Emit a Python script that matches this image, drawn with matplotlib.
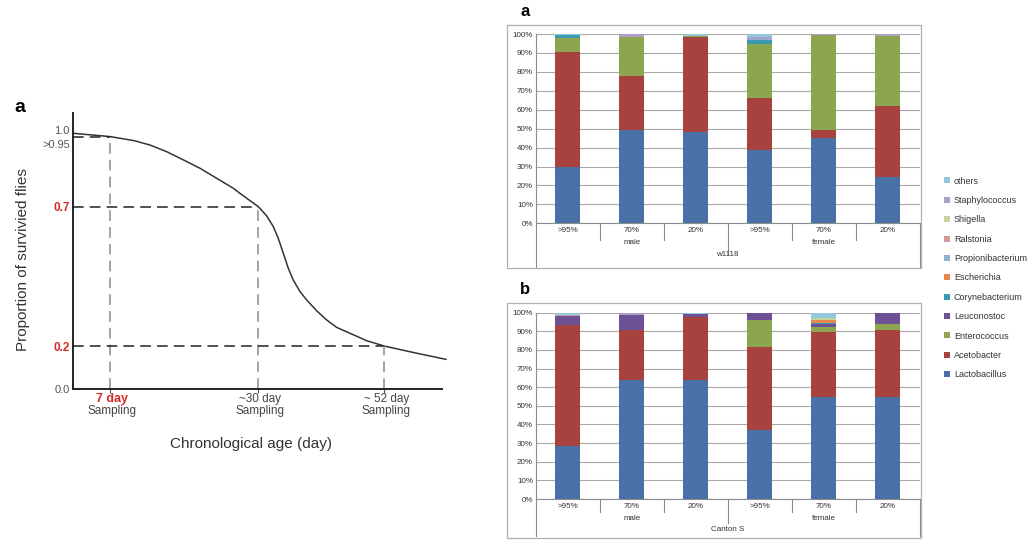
import matplotlib
matplotlib.use('Agg')
import matplotlib.pyplot as plt
from matplotlib.patches import Rectangle

plt.rcParams['font.family'] = ['Liberation Sans', 'DejaVu Sans']

# ---- panel a (left): survival curve, schematic axes as drawn ----
age = [0, 6.07, 10.0, 12.57, 15.28, 17.98, 20.70, 23.41, 26.11, 27.20, 30.18, 31.54,
       32.62, 33.43, 34.24, 35.06, 35.87, 36.96, 38.05, 39.67, 41.30, 42.93, 45.09,
       47.80, 50.67, 55.93, 60.70]
survival = [1.0, 0.987, 0.971, 0.954, 0.928, 0.896, 0.863, 0.824, 0.785, 0.765, 0.713,
            0.677, 0.635, 0.589, 0.531, 0.472, 0.426, 0.381, 0.348, 0.306, 0.270, 0.241,
            0.218, 0.189, 0.168, 0.140, 0.116]
sample_x = [6.07, 30.18, 50.67]
sample_y = [0.987, 0.713, 0.168]
day_labels = ['7 day', '~30 day', '~ 52 day']
ytick_pos = [0.0, 0.168, 0.713, 0.957, 1.014]
ytick_labels = ['0.0', '0.2', '0.7', '>0.95', '1.0']

# ---- bar panels: relative abundance (%) ----
groups = ['>95%', '70%', '20%', '>95%', '70%', '20%']
taxa = ['Lactobacillus', 'Acetobacter', 'Enterococcus', 'Leuconostoc', 'Corynebacterium',
        'Escherichia', 'Propionibacterium', 'Ralstonia', 'Shigella', 'Staphylococcus', 'others']
colors = ['#4a70a8', '#a8423f', '#8ba64e', '#6d5095', '#3a9ab2', '#e8874a',
          '#90afd6', '#d49a98', '#c4d4a0', '#aca0c6', '#92c8dc']

w1118 = {
    'Lactobacillus':     [30.0, 49.3, 48.4, 38.7, 44.9, 24.6],
    'Acetobacter':       [60.3, 28.5, 49.8, 27.3, 4.4, 37.4],
    'Enterococcus':      [7.6, 20.8, 0.8, 28.7, 50.2, 37.0],
    'Leuconostoc':       [0, 0, 0, 0, 0, 0],
    'Corynebacterium':   [1.4, 0, 0, 2.3, 0, 0],
    'Escherichia':       [0, 0, 0, 0, 0, 0],
    'Propionibacterium': [0, 0, 0, 0.6, 0, 0],
    'Ralstonia':         [0, 0, 0, 0, 0, 0],
    'Shigella':          [0, 0, 0, 0, 0, 0],
    'Staphylococcus':    [0, 1.4, 0, 0.8, 0.5, 1.0],
    'others':            [0.7, 0, 1.0, 1.6, 0, 0],
}
canton = {
    'Lactobacillus':     [28.6, 63.9, 63.9, 37.0, 55.0, 55.0],
    'Acetobacter':       [64.6, 26.8, 34.0, 44.8, 34.8, 35.5],
    'Enterococcus':      [0, 0, 0, 14.2, 2.7, 3.6],
    'Leuconostoc':       [4.8, 8.1, 1.5, 4.0, 1.4, 5.9],
    'Corynebacterium':   [0, 0, 0, 0, 0.5, 0],
    'Escherichia':       [0, 0, 0, 0, 1.8, 0],
    'Propionibacterium': [0, 0, 0, 0, 0, 0],
    'Ralstonia':         [0.8, 0, 0, 0, 0, 0],
    'Shigella':          [0, 0, 0, 0, 1.2, 0],
    'Staphylococcus':    [0, 1.2, 0, 0, 0, 0],
    'others':            [1.2, 0, 0.6, 0, 2.6, 0],
}

fig = plt.figure(figsize=(10.3, 5.45), dpi=100)

# ---------------- left panel ----------------
ax = fig.add_axes([0.0706, 0.2862, 0.3582, 0.5059])
ax.plot(age, survival, color='#333333', lw=1.1, clip_on=False)
for x, y in zip(sample_x, sample_y):
    ax.plot([0, x], [y, y], color='#222222', lw=1.1, dashes=(7, 4))
    ax.plot([x, x], [0, y], color='#8a8a8a', lw=1.1, dashes=(7, 4))
ax.set_xlim(0, 60)
ax.set_ylim(0, 1.078)
for s in ['top', 'right']:
    ax.spines[s].set_visible(False)
for s in ['left', 'bottom']:
    ax.spines[s].set_linewidth(1.4)
    ax.spines[s].set_color('#222222')
ax.set_yticks(ytick_pos)
ax.set_yticklabels(ytick_labels)
ax.tick_params(axis='y', length=0, pad=2, labelsize=8, labelcolor='#555555')
for lab in ax.get_yticklabels():
    if lab.get_text() in ('0.7', '0.2'):
        lab.set_color('#d42a2a')
        lab.set_fontweight('bold')
        lab.set_fontsize(8.5)
ax.set_xticks(sample_x)
ax.set_xticklabels([])
ax.tick_params(axis='x', length=3, color='#555555')
for i, (x, d) in enumerate(zip(sample_x, day_labels)):
    first = i == 0
    ax.text(x + 0.3, -0.037, d, transform=ax.get_xaxis_transform(), ha='center', va='center',
            fontsize=9 if first else 8.5, color='#d42a2a' if first else '#444444',
            fontweight='bold' if first else 'normal')
    ax.text(x + 0.3, -0.079, 'Sampling', transform=ax.get_xaxis_transform(),
            ha='center', va='center', fontsize=8.5, color='#444444')
ax.set_ylabel('Proportion of survivied flies', fontsize=11, color='#333333')
ax.yaxis.set_label_coords(-0.116, 0.47)
ax.set_xlabel('Chronological age (day)', fontsize=11, color='#333333')
ax.xaxis.set_label_coords(0.483, -0.173)
fig.text(0.0136, 0.802, 'a', fontsize=14, fontweight='bold', va='center')


# ---------------- right panels ----------------
def bar_panel(rect, box, data, strain, lab_y, sep_y):
    fig.patches.append(Rectangle((box[0], box[1]), box[2], box[3], transform=fig.transFigure,
                                 fill=False, edgecolor='#b0b0b0', lw=0.9))
    bx = fig.add_axes(rect)
    xs = list(range(len(groups)))
    bottom = [0.0] * len(groups)
    handles = []
    for t, c in zip(taxa, colors):
        h = bx.bar(xs, data[t], 0.39, bottom=bottom, color=c, label=t, zorder=3)
        handles.append(h)
        bottom = [b + v for b, v in zip(bottom, data[t])]
    bx.set_xlim(-0.5, 5.5)
    bx.set_ylim(0, 100)
    bx.set_yticks(range(0, 101, 10))
    bx.set_yticklabels([f'{v}%' for v in range(0, 101, 10)])
    bx.tick_params(axis='y', length=0, pad=2, labelsize=5.8, labelcolor='#333333')
    bx.grid(axis='y', color='#a8a8a8', lw=0.8, zorder=0)
    bx.set_xticks(xs)
    bx.set_xticklabels([])
    bx.tick_params(axis='x', length=0)
    for s in ['top', 'right']:
        bx.spines[s].set_visible(False)
    bx.spines['left'].set_color('#8c8c8c')
    bx.spines['bottom'].set_color('#8c8c8c')
    tr = bx.get_xaxis_transform()
    for x, g in zip(xs, groups):
        bx.text(x, lab_y[0], g, transform=tr, ha='center', va='center', fontsize=5.8, color='#333333')
    bx.text(1, lab_y[1], 'male', transform=tr, ha='center', va='center', fontsize=5.8, color='#333333')
    bx.text(4, lab_y[1], 'female', transform=tr, ha='center', va='center', fontsize=5.8, color='#333333')
    bx.text(2.5, lab_y[2], strain, transform=tr, ha='center', va='center', fontsize=5.8, color='#333333')
    for x in [0.5, 1.5, 3.5, 4.5]:
        bx.plot([x, x], [0, sep_y[0]], transform=tr, color='#8c8c8c', lw=0.8, clip_on=False)
    bx.plot([2.5, 2.5], [0, sep_y[1]], transform=tr, color='#8c8c8c', lw=0.8, clip_on=False)
    bx.plot([-0.5, -0.5], [0, sep_y[2]], transform=tr, color='#8c8c8c', lw=0.8, clip_on=False)
    bx.plot([5.5, 5.5], [0, sep_y[2]], transform=tr, color='#8c8c8c', lw=0.8, clip_on=False)
    return handles


bar_panel([0.5201, 0.5903, 0.3728, 0.3473], [0.4922, 0.5083, 0.402, 0.4464], w1118, 'w1118',
          [-0.039, -0.099, -0.164], [-0.09, -0.169, -0.236])
handles = bar_panel([0.5201, 0.0844, 0.3728, 0.3418], [0.4922, 0.0128, 0.402, 0.4306], canton,
                    'Canton S', [-0.038, -0.104, -0.166], [-0.068, -0.127, -0.199])

fig.text(0.5049, 0.978, 'a', fontsize=12, fontweight='bold', va='center')
fig.text(0.5049, 0.468, 'b', fontsize=12, fontweight='bold', va='center')

fig.legend(handles[::-1], taxa[::-1], loc='center left', bbox_to_anchor=(0.909, 0.490),
           frameon=False, fontsize=6.5, handlelength=0.65, handleheight=0.65,
           handletextpad=0.4, labelspacing=1.15, labelcolor='#333333')

fig.savefig('out.png', dpi=100)
